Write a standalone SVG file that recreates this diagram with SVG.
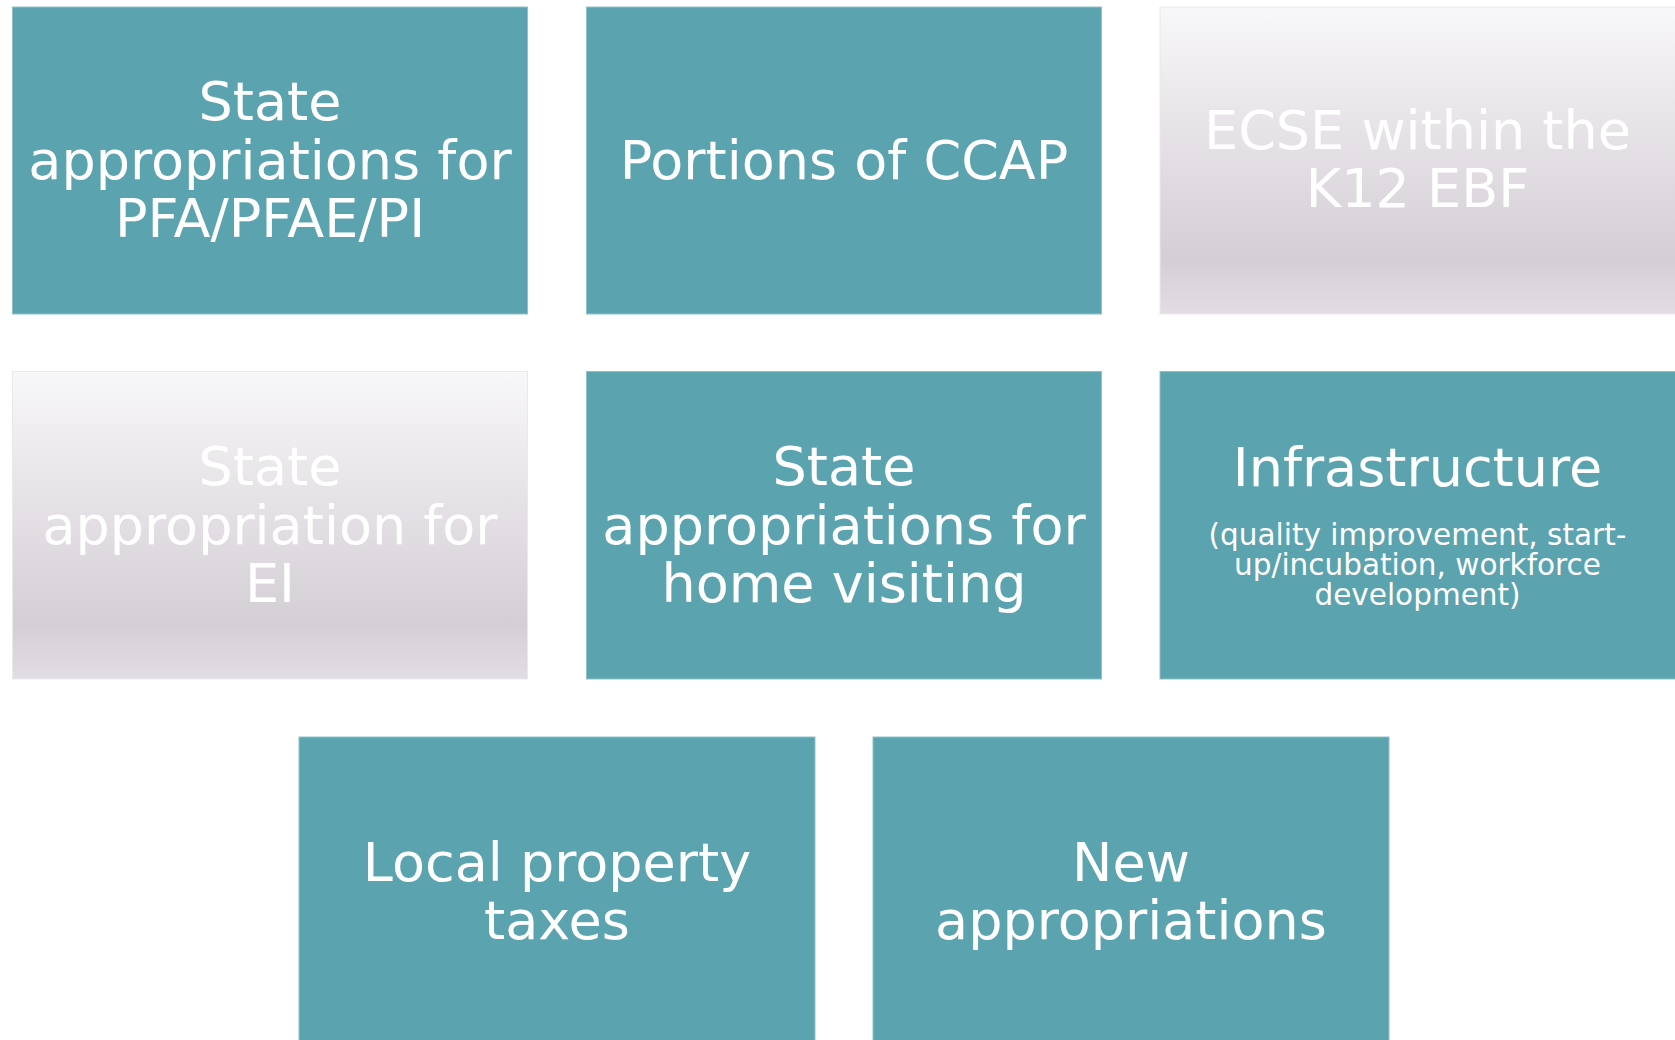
<svg xmlns="http://www.w3.org/2000/svg" width="1675" height="1040" viewBox="0 0 1675 1040">
<defs>
<linearGradient id="grey" x1="0" y1="0" x2="0" y2="1">
<stop offset="0" stop-color="#f8f7f9"/>
<stop offset="0.5" stop-color="#e2dee3"/>
<stop offset="0.82" stop-color="#d4cfd5"/>
<stop offset="1" stop-color="#e1dde2"/>
</linearGradient>
<style>
.teal{fill:#5ba3af;stroke:#8fc1c9;stroke-width:1}
.grey{fill:url(#grey);stroke:#ebe8ec;stroke-width:1}
.t{font-family:Verdana,"DejaVu Sans",sans-serif;font-size:54px;fill:#ffffff;text-anchor:middle}
.s{font-family:Verdana,"DejaVu Sans",sans-serif;font-size:29.5px;fill:#ffffff;text-anchor:middle}
</style>
</defs>
<rect width="1675" height="1040" fill="#ffffff"/>
<g id="node-pfa">
<rect class="teal" x="12.5" y="7" width="515" height="307"/>
<text class="t" x="270" y="120">State</text>
<text class="t" x="270" y="179">appropriations for</text>
<text class="t" x="270" y="237">PFA/PFAE/PI</text>
</g>
<g id="node-ccap">
<rect class="teal" x="586.5" y="7" width="515" height="307"/>
<text class="t" x="844" y="179">Portions of CCAP</text>
</g>
<g id="node-ecse">
<rect class="grey" x="1160" y="7" width="516" height="307"/>
<text class="t" x="1417.5" y="149">ECSE within the</text>
<text class="t" x="1417.5" y="207">K12 EBF</text>
</g>
<g id="node-ei">
<rect class="grey" x="12.5" y="371.5" width="515" height="307.5"/>
<text class="t" x="270" y="485">State</text>
<text class="t" x="270" y="544">appropriation for</text>
<text class="t" x="270" y="602">EI</text>
</g>
<g id="node-home">
<rect class="teal" x="586.5" y="371.5" width="515" height="307.5"/>
<text class="t" x="844" y="485">State</text>
<text class="t" x="844" y="544">appropriations for</text>
<text class="t" x="844" y="602">home visiting</text>
</g>
<g id="node-infra">
<rect class="teal" x="1160" y="371.5" width="516" height="307.5"/>
<text class="t" x="1417.5" y="486">Infrastructure</text>
<text class="s" x="1417.5" y="545">(quality improvement, start-</text>
<text class="s" x="1417.5" y="575">up/incubation, workforce</text>
<text class="s" x="1417.5" y="605">development)</text>
</g>
<g id="node-local">
<rect class="teal" x="299" y="737" width="516" height="310"/>
<text class="t" x="557" y="881">Local property</text>
<text class="t" x="557" y="939">taxes</text>
</g>
<g id="node-new">
<rect class="teal" x="873" y="737" width="516" height="310"/>
<text class="t" x="1131" y="881">New</text>
<text class="t" x="1131" y="939">appropriations</text>
</g>
<g id="connectors"/>
</svg>
